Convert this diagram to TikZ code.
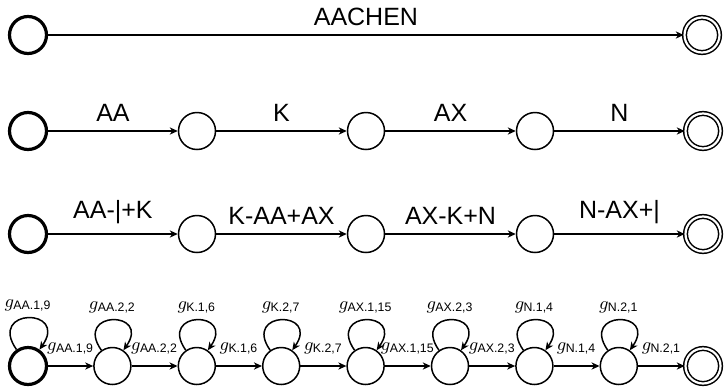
\documentclass[tikz,border=0pt]{standalone}
\usepackage{fontspec}
\setmainfont{Liberation Sans}
\usepackage{amsmath}
\usetikzlibrary{arrows.meta}

\begin{document}
\begin{tikzpicture}[
  x=0.5pt, y=0.5pt,
  font=\fontsize{12.5}{15}\selectfont,
  state/.style={circle, draw, line width=0.75pt, minimum size=18.5pt, inner sep=0pt},
  init/.style={state, line width=1.6pt},
  final/.style={state, double, double distance=1.1pt, minimum size=17.5pt},
  arr/.style={-{Stealth[length=4pt, width=3.6pt, inset=1.2pt]}, line width=0.75pt},
  lab/.style={above, inner sep=4.5pt},
  glab/.style={above, inner sep=5.5pt, font=\fontsize{8.8}{10}\selectfont},
  slab/.style={above, inner sep=3pt, font=\fontsize{8.8}{10}\selectfont},
  self/.style={out=125, in=55, looseness=5.7},
]
  \useasboundingbox (0,0) rectangle (727,-386);

  % whole word
  \node[init]  (a0) at (28,-35) {};
  \node[final] (a1) at (702,-35) {};
  \draw[arr] (a0) -- node[lab]{AACHEN} (a1);

  % phonemes
  \node[init]  (b0) at (28,-131) {};
  \node[state] (b1) at (197,-131) {};
  \node[state] (b2) at (366,-131) {};
  \node[state] (b3) at (535,-131) {};
  \node[final] (b4) at (703,-131) {};
  \draw[arr] (b0) -- node[lab]{AA} (b1);
  \draw[arr] (b1) -- node[lab]{K} (b2);
  \draw[arr] (b2) -- node[lab]{AX} (b3);
  \draw[arr] (b3) -- node[lab]{N} (b4);

  % triphones
  \node[init]  (c0) at (28,-234) {};
  \node[state] (c1) at (197,-234) {};
  \node[state] (c2) at (366,-234) {};
  \node[state] (c3) at (535,-234) {};
  \node[final] (c4) at (703,-234) {};
  \draw[arr] (c0) -- node[lab]{AA-|+K} (c1);
  \draw[arr] (c1) -- node[lab]{K-AA+AX} (c2);
  \draw[arr] (c2) -- node[lab]{AX-K+N} (c3);
  \draw[arr] (c3) -- node[lab]{N-AX+|} (c4);

  % HMM states
  \node[init]  (d0) at (28,-366) {};
  \node[state] (d1) at (112.4,-366) {};
  \node[state] (d2) at (196.8,-366) {};
  \node[state] (d3) at (281.2,-366) {};
  \node[state] (d4) at (365.6,-366) {};
  \node[state] (d5) at (450,-366) {};
  \node[state] (d6) at (534.4,-366) {};
  \node[state] (d7) at (618.8,-366) {};
  \node[final] (d8) at (703,-366) {};
  \draw[arr] (d0) to[self] node[slab]{$g_{\text{AA.1,9}}$} (d0);
  \draw[arr] (d1) to[self] node[slab]{$g_{\text{AA.2,2}}$} (d1);
  \draw[arr] (d2) to[self] node[slab]{$g_{\text{K.1,6}}$} (d2);
  \draw[arr] (d3) to[self] node[slab]{$g_{\text{K.2,7}}$} (d3);
  \draw[arr] (d4) to[self] node[slab]{$g_{\text{AX.1,15}}$} (d4);
  \draw[arr] (d5) to[self] node[slab]{$g_{\text{AX.2,3}}$} (d5);
  \draw[arr] (d6) to[self] node[slab]{$g_{\text{N.1,4}}$} (d6);
  \draw[arr] (d7) to[self] node[slab]{$g_{\text{N.2,1}}$} (d7);
  \draw[arr] (d0) -- node[glab]{$g_{\text{AA.1,9}}$} (d1);
  \draw[arr] (d1) -- node[glab]{$g_{\text{AA.2,2}}$} (d2);
  \draw[arr] (d2) -- node[glab]{$g_{\text{K.1,6}}$} (d3);
  \draw[arr] (d3) -- node[glab]{$g_{\text{K.2,7}}$} (d4);
  \draw[arr] (d4) -- node[glab]{$g_{\text{AX.1,15}}$} (d5);
  \draw[arr] (d5) -- node[glab]{$g_{\text{AX.2,3}}$} (d6);
  \draw[arr] (d6) -- node[glab]{$g_{\text{N.1,4}}$} (d7);
  \draw[arr] (d7) -- node[glab]{$g_{\text{N.2,1}}$} (d8);
\end{tikzpicture}
\end{document}
